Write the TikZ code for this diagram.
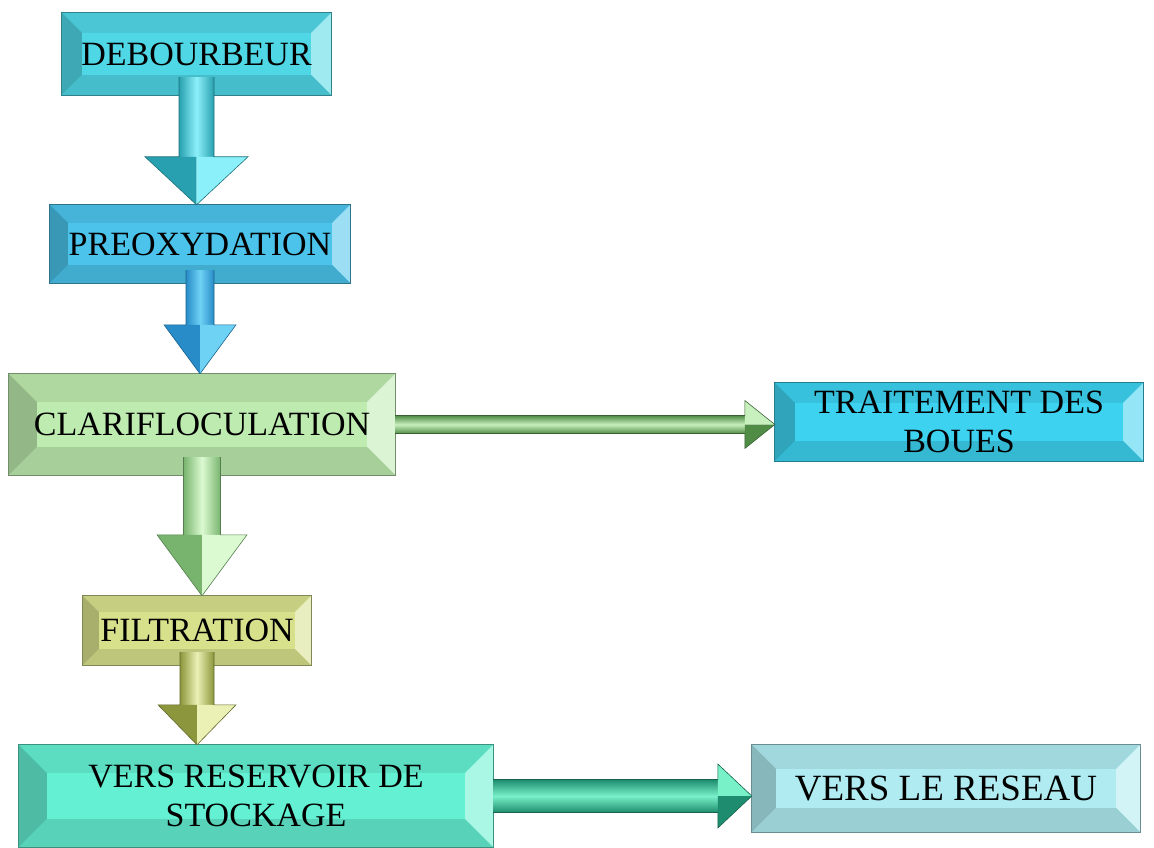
\documentclass[tikz,border=0pt]{standalone}
\usepackage{fontspec}
\setmainfont{Liberation Serif}
\usetikzlibrary{calc}
\pgfdeclarelayer{background}
\pgfsetlayers{background,main}
\definecolor{debc}{RGB}{80,215,230}
\definecolor{prec}{RGB}{75,195,235}
\definecolor{clac}{RGB}{190,235,175}
\definecolor{trac}{RGB}{60,210,240}
\definecolor{filc}{RGB}{215,225,140}
\definecolor{resc}{RGB}{100,240,210}
\definecolor{netc}{RGB}{175,235,240}
\definecolor{aonedark}{RGB}{40,160,175}
\definecolor{aonelight}{RGB}{140,240,250}
\definecolor{atwodark}{RGB}{40,140,200}
\definecolor{atwolight}{RGB}{110,210,245}
\definecolor{athreedark}{RGB}{120,180,110}
\definecolor{athreelight}{RGB}{220,250,210}
\definecolor{agreendark}{RGB}{80,140,70}
\definecolor{agreenlight}{RGB}{200,240,190}
\definecolor{afourdark}{RGB}{140,150,60}
\definecolor{afourlight}{RGB}{235,240,180}
\definecolor{afivedark}{RGB}{30,140,110}
\definecolor{afivelight}{RGB}{120,240,200}
\newcommand\bevelbox[3]{%
  \fill[#2] (#1.north west) rectangle (#1.south east);
  \fill[#2!92!black] (#1.north west) -- (#1.north east) -- ([xshift=-#3,yshift=-#3]#1.north east) -- ([xshift=#3,yshift=-#3]#1.north west) -- cycle;
  \fill[#2!78!black] (#1.north west) -- ([xshift=#3,yshift=-#3]#1.north west) -- ([xshift=#3,yshift=#3]#1.south west) -- (#1.south west) -- cycle;
  \fill[#2!55!white] (#1.north east) -- ([xshift=-#3,yshift=-#3]#1.north east) -- ([xshift=-#3,yshift=#3]#1.south east) -- (#1.south east) -- cycle;
  \fill[#2!88!black] (#1.south west) -- ([xshift=#3,yshift=#3]#1.south west) -- ([xshift=-#3,yshift=#3]#1.south east) -- (#1.south east) -- cycle;
  \draw[#2!60!black, line width=0.8pt] (#1.north west) rectangle (#1.south east);
}
\newcommand\varrow[9]{%
  \coordinate (#3s) at ([yshift=#7]#1.south);
  \coordinate (#3t) at (#1.south |- #2.north);
  \coordinate (#3h) at ([yshift=#6]#3t);
  \shade[left color=#8, right color=#8, middle color=#9] ([xshift=-#4]#3s) rectangle ([xshift=#4]#3h);
  \fill[#8] ([xshift=-#5]#3h) -- (#3h) -- (#3t) -- cycle;
  \fill[#9] ([xshift=#5]#3h) -- (#3h) -- (#3t) -- cycle;
  \draw[#8!70!black, line width=0.6pt, line join=miter] ([xshift=-#4]#3s) -- ([xshift=-#4]#3h) -- ([xshift=-#5]#3h) -- (#3t) -- ([xshift=#5]#3h) -- ([xshift=#4]#3h) -- ([xshift=#4]#3s);
}
\newcommand\harrow[9]{%
  \coordinate (#3s) at ([xshift=-#7]#1.east);
  \coordinate (#3t) at (#1.east -| #2.west);
  \coordinate (#3h) at ([xshift=-#6]#3t);
  \shade[top color=#8, bottom color=#8, middle color=#9] ([yshift=#4]#3s) rectangle ([yshift=-#4]#3h);
  \fill[#9] ([yshift=#5]#3h) -- (#3h) -- (#3t) -- cycle;
  \fill[#8] ([yshift=-#5]#3h) -- (#3h) -- (#3t) -- cycle;
  \draw[#8!70!black, line width=0.6pt, line join=miter] ([yshift=#4]#3s) -- ([yshift=#4]#3h) -- ([yshift=#5]#3h) -- (#3t) -- ([yshift=-#5]#3h) -- ([yshift=-#4]#3h) -- ([yshift=-#4]#3s);
}
\begin{document}
\begin{tikzpicture}[x=1pt,y=-1pt,
  stage/.style={inner sep=0pt, align=center, text=black, font=\fontsize{34}{39}\selectfont}]
\useasboundingbox (0,0) rectangle (1154,848);
\node[stage, minimum width=269pt, minimum height=82pt] (deb) at (196.5,54) {DEBOURBEUR};
\node[stage, minimum width=300pt, minimum height=78pt] (pre) at (200,244) {PREOXYDATION};
\node[stage, minimum width=386pt, minimum height=101pt] (cla) at (202,424.5) {CLARIFLOCULATION};
\node[stage, minimum width=368pt, minimum height=78pt] (tra) at (959,422) {TRAITEMENT DES\\BOUES};
\node[stage, minimum width=228pt, minimum height=69pt] (fil) at (197,630.5) {FILTRATION};
\node[stage, minimum width=474pt, minimum height=102pt] (res) at (256,796) {VERS RESERVOIR DE\\STOCKAGE};
\node[stage, minimum width=388pt, minimum height=87pt, font=\fontsize{37}{42}\selectfont] (net) at (946,788.5) {VERS LE RESEAU};
\begin{pgfonlayer}{background}
\fill[white] (0,0) rectangle (1154,848);
\bevelbox{deb}{debc}{20pt}
\bevelbox{pre}{prec}{18pt}
\bevelbox{cla}{clac}{28pt}
\bevelbox{tra}{trac}{20pt}
\bevelbox{fil}{filc}{16pt}
\bevelbox{res}{resc}{28pt}
\bevelbox{net}{netc}{24pt}
\end{pgfonlayer}
\varrow{deb}{pre}{aone}{17.5pt}{51.5pt}{48pt}{18pt}{aonedark}{aonelight}
\varrow{pre}{cla}{atwo}{14pt}{36pt}{49pt}{13pt}{atwodark}{atwolight}
\varrow{cla}{fil}{athree}{18.5pt}{45pt}{61pt}{18pt}{athreedark}{athreelight}
\varrow{fil}{res}{afour}{17pt}{39pt}{40pt}{13pt}{afourdark}{afourlight}
\harrow{cla}{tra}{agreen}{9pt}{24pt}{30pt}{0pt}{agreendark}{agreenlight}
\harrow{res}{net}{afive}{16.5pt}{32pt}{34pt}{0pt}{afivedark}{afivelight}
\end{tikzpicture}
\end{document}
